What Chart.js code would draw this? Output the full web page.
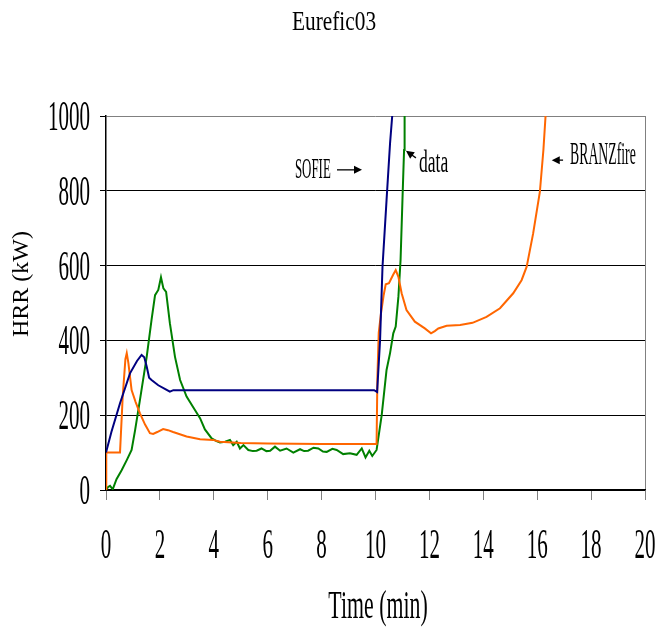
<!DOCTYPE html>
<html>
<head>
<meta charset="utf-8">
<script src="https://cdn.jsdelivr.net/npm/chart.js@4/dist/chart.umd.min.js"></script>
<style>
html,body{margin:0;padding:0;background:#fff;}
canvas{display:block;}
</style>
</head>
<body>
<canvas id="c" width="659" height="630"></canvas>
<script>
// ---- data (time in min, HRR in kW) ----
const chartTitle = "Eurefic03";
const xTitle = "Time (min)";
const yTitle = "HRR (kW)";
const xTicks = [0, 2, 4, 6, 8, 10, 12, 14, 16, 18, 20];
const yTicks = [0, 200, 400, 600, 800, 1000];

const sofieT = [0, 0.2, 0.52, 0.89, 1.15, 1.32, 1.42, 1.51, 1.6, 1.69, 1.94, 2.2, 2.37, 2.5, 9.95, 10.06, 10.17, 10.26, 10.41, 10.54, 10.62, 10.7];
const sofieV = [100, 155, 232, 312, 345, 361, 355, 330, 300, 294, 280, 270, 263, 267, 267, 262, 401, 597, 775, 927, 1000, 1150];

const branzT = [0, 0.01, 0.52, 0.62, 0.72, 0.77, 0.83, 0.95, 1.1, 1.26, 1.45, 1.63, 1.75, 1.9, 2.12, 2.3, 2.49, 2.99, 3.49, 3.97, 4.23, 5, 6, 8, 10.0, 10.04, 10.07, 10.12, 10.2, 10.3, 10.38, 10.5, 10.65, 10.75, 10.85, 10.97, 11.15, 11.46, 11.83, 12.06, 12.2, 12.33, 12.64, 13.14, 13.6, 14.12, 14.62, 15.11, 15.42, 15.61, 15.85, 16.1, 16.23, 16.31, 16.4];
const branzV = [0, 100, 100, 250, 350, 366, 340, 267, 235, 205, 175, 152, 150, 155, 163, 160, 155, 143, 136, 134, 129, 126, 124, 123, 123, 123, 300, 420, 470, 520, 550, 553, 575, 588, 570, 526, 481, 450, 432, 419, 425, 432, 439, 441, 447, 463, 486, 526, 561, 597, 686, 798, 909, 1000, 1120];

const dataT = [0, 0.08, 0.15, 0.25, 0.39, 0.58, 0.77, 0.95, 1.08, 1.26, 1.51, 1.69, 1.82, 1.94, 2.04, 2.13, 2.23, 2.37, 2.56, 2.75, 2.99, 3.3, 3.49, 3.67, 3.92, 4.1, 4.23, 4.42, 4.6, 4.72, 4.85, 4.97, 5.1, 5.28, 5.45, 5.59, 5.77, 5.95, 6.09, 6.27, 6.46, 6.7, 6.95, 7.2, 7.35, 7.5, 7.7, 7.88, 8.05, 8.19, 8.4, 8.56, 8.8, 9.05, 9.3, 9.49, 9.63, 9.77, 9.88, 10.04, 10.23, 10.41, 10.54, 10.66, 10.75, 10.85, 10.93, 11.0, 11.06, 11.08, 11.12];
const dataV = [0, 8, 11, 2, 29, 53, 80, 107, 160, 241, 356, 455, 521, 535, 569, 539, 530, 446, 356, 294, 250, 214, 192, 162, 138, 131, 127, 129, 134, 120, 129, 111, 120, 107, 104, 105, 111, 104, 105, 116, 105, 111, 100, 109, 104, 105, 113, 111, 103, 102, 110, 107, 96, 98, 94, 111, 87, 105, 91, 107, 200, 321, 366, 419, 437, 517, 615, 775, 909, 1000, 1120];

const seriesNames = ["SOFIE", "BRANZfire", "data"];
const seriesColors = ["#000080", "#FF6600", "#008000"];

// annotation labels (data coordinates)
const annotText = ["SOFIE", "data", "BRANZfire"];
const annotT = [7.01, 11.61, 17.22];
const annotV = [834, 850, 872];
// arrows: tail (t,v) -> head (t,v)
const arrowTailT = [8.57, 11.50, 16.96];
const arrowTailV = [856, 888, 882];
const arrowHeadT = [9.50, 11.13, 16.54];
const arrowHeadV = [856, 907, 882];

const toXY = (ts, vs) => ts.map((t, i) => ({x: t, y: vs[i]}));

const FONT = '"Liberation Serif", "DejaVu Serif", serif';
function txt(ctx, s, x, y, size, sx, align, rot) {
  ctx.save();
  ctx.translate(x, y);
  if (rot) ctx.rotate(rot);
  ctx.scale(sx, 1);
  ctx.font = size + 'px ' + FONT;
  ctx.fillStyle = '#000';
  ctx.textAlign = align;
  ctx.textBaseline = 'alphabetic';
  ctx.fillText(s, 0, 0);
  ctx.restore();
}

const textPlugin = {
  id: 'texts',
  afterDraw(chart) {
    const ctx = chart.ctx;
    const xs = chart.scales.x, ys = chart.scales.y;
    // y tick labels
    yTicks.forEach(v => txt(ctx, String(v), 90, ys.getPixelForValue(v) + 14, 42, 0.5, 'right'));
    // x tick labels
    xTicks.forEach(t => txt(ctx, String(t), xs.getPixelForValue(t), 558, 42, 0.5, 'center'));
    // titles
    txt(ctx, chartTitle, 334, 30, 27, 0.79, 'center');
    txt(ctx, xTitle, 378, 618, 39, 0.56, 'center');
    txt(ctx, yTitle, 28, 284, 24, 1, 'center', -Math.PI / 2);
    // annotations
    const sizes = [30, 32, 32], sxs = [0.43, 0.55, 0.43];
    annotText.forEach((s, i) => {
      txt(ctx, s, xs.getPixelForValue(annotT[i]), ys.getPixelForValue(annotV[i]), sizes[i], sxs[i], 'left');
      const x1 = xs.getPixelForValue(arrowTailT[i]), y1 = ys.getPixelForValue(arrowTailV[i]);
      const x2 = xs.getPixelForValue(arrowHeadT[i]), y2 = ys.getPixelForValue(arrowHeadV[i]);
      const a = Math.atan2(y2 - y1, x2 - x1);
      ctx.save();
      ctx.strokeStyle = '#000'; ctx.fillStyle = '#000'; ctx.lineWidth = 1.3;
      ctx.beginPath(); ctx.moveTo(x1, y1);
      ctx.lineTo(x2 - 6 * Math.cos(a), y2 - 6 * Math.sin(a)); ctx.stroke();
      ctx.beginPath();
      ctx.moveTo(x2, y2);
      ctx.lineTo(x2 - 8 * Math.cos(a) + 4 * Math.sin(a), y2 - 8 * Math.sin(a) - 4 * Math.cos(a));
      ctx.lineTo(x2 - 8 * Math.cos(a) - 4 * Math.sin(a), y2 - 8 * Math.sin(a) + 4 * Math.cos(a));
      ctx.closePath(); ctx.fill();
      ctx.restore();
    });
  }
};

new Chart(document.getElementById('c'), {
  type: 'line',
  data: {
    datasets: [
      {label: seriesNames[0], data: toXY(sofieT, sofieV), borderColor: seriesColors[0], borderWidth: 2, pointRadius: 0, tension: 0, fill: false},
      {label: seriesNames[1], data: toXY(branzT, branzV), borderColor: seriesColors[1], borderWidth: 2, pointRadius: 0, tension: 0, fill: false},
      {label: seriesNames[2], data: toXY(dataT, dataV), borderColor: seriesColors[2], borderWidth: 2, pointRadius: 0, tension: 0, fill: false}
    ]
  },
  options: {
    responsive: false,
    animation: false,
    events: [],
    layout: {padding: {left: 100, right: 14, top: 116, bottom: 130}},
    plugins: {legend: {display: false}, title: {display: false}, tooltip: {enabled: false}},
    scales: {
      x: {
        type: 'linear', min: 0, max: 20,
        afterBuildTicks: s => { s.ticks = xTicks.map(v => ({value: v})); },
        ticks: {display: false},
        grid: {
          drawOnChartArea: true, drawTicks: true, tickLength: 10,
          color: c => (c.tick && c.tick.value === 20) ? '#808080' : 'rgba(0,0,0,0)',
          tickColor: '#808080', lineWidth: 1
        },
        border: {display: true, color: '#000', width: 1.5}
      },
      y: {
        min: 0, max: 1000,
        afterBuildTicks: s => { s.ticks = yTicks.map(v => ({value: v})); },
        ticks: {display: false},
        grid: {
          drawTicks: true, tickLength: 6,
          color: c => (c.tick && c.tick.value === 1000) ? '#808080' : '#000',
          tickColor: '#000', lineWidth: 1
        },
        border: {display: true, color: '#000', width: 1.5}
      }
    }
  },
  plugins: [textPlugin]
});
</script>
</body>
</html>
